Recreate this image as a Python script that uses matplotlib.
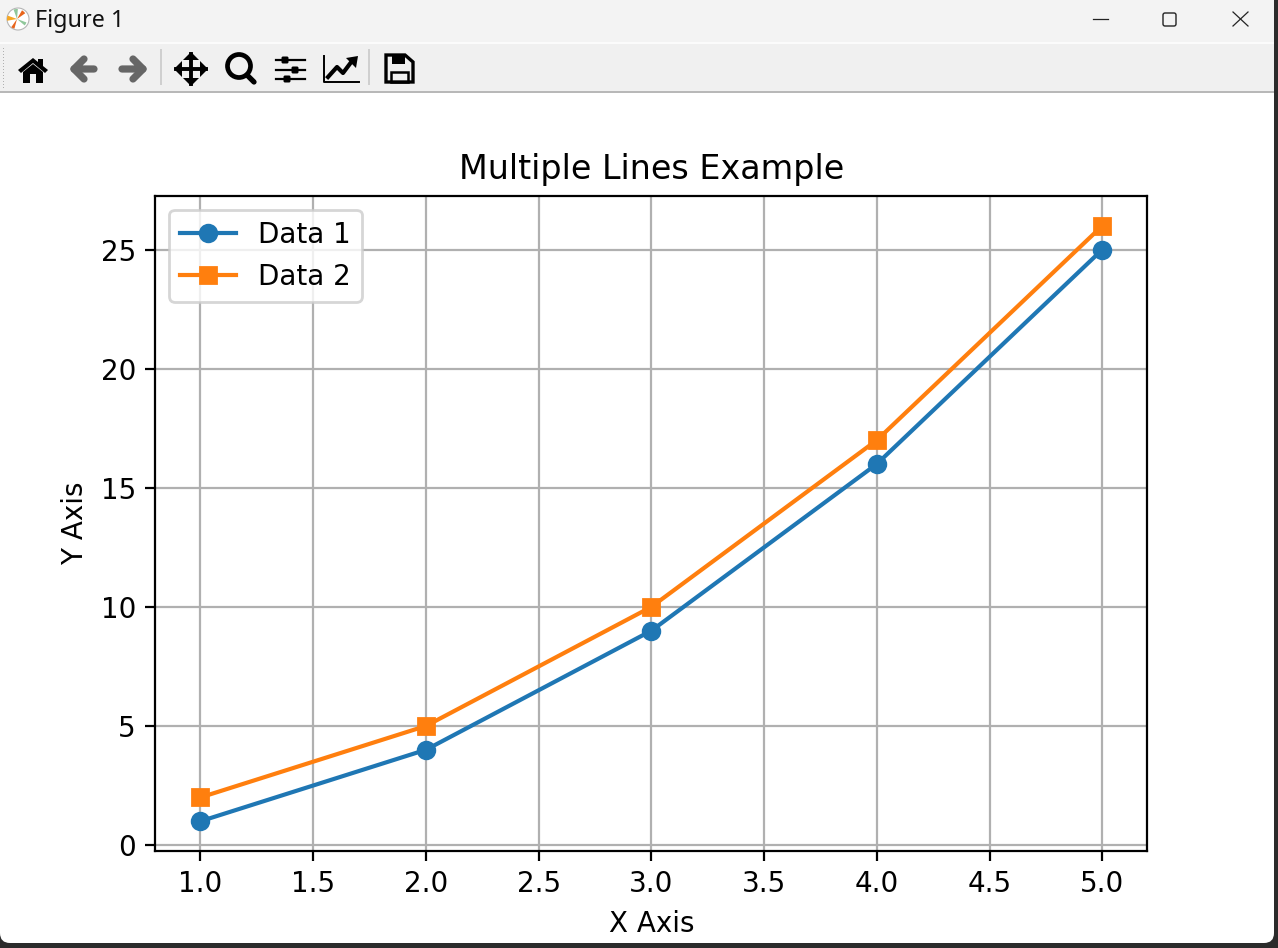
import matplotlib

matplotlib.use("Agg")
import matplotlib.pyplot as plt
from matplotlib.patches import Circle, FancyBboxPatch, Polygon, Rectangle, Wedge

x_values = [1, 2, 3, 4, 5]
data_1 = [1, 4, 9, 16, 25]
data_2 = [2, 5, 10, 17, 26]

WIDTH, HEIGHT = 1278, 948
DPI = 200

fig = plt.figure(figsize=(WIDTH / DPI, HEIGHT / DPI), dpi=DPI, facecolor="#2b2b2b")


def draw_window(win):
    """Window frame and toolbar, drawn in pixel coordinates."""
    win.set_xlim(0, WIDTH)
    win.set_ylim(HEIGHT, 0)
    win.axis("off")

    win.add_patch(
        FancyBboxPatch(
            (0, -20), 1274, 963, boxstyle="round,pad=0,rounding_size=10",
            fc="white", ec="none",
        )
    )
    win.add_patch(
        FancyBboxPatch(
            (0, -10), 1274, 102, boxstyle="round,pad=0,rounding_size=10",
            fc="#f3f3f3", ec="none",
        )
    )
    win.add_patch(Rectangle((0, 42), 1274, 1.5, fc="#fbfbfb", ec="none"))
    win.add_patch(Rectangle((0, 43.5), 1274, 47.5, fc="#f0f0f0", ec="none"))
    win.add_patch(Rectangle((0, 91), 1274, 1.6, fc="#b8b8b8", ec="none"))

    # title bar
    win.add_patch(Circle((18, 19), 11, fc="white", ec="#b5b5b5", lw=0.4))
    for start, end, color in [
        (-60, -35, "#e8641b"), (105, 125, "#e8641b"), (170, 200, "#f5a623"),
        (250, 275, "#8fc79a"), (20, 40, "#8fc79a"),
    ]:
        win.add_patch(Wedge((17, 19), 10, start, end, fc=color, ec="none"))
    win.text(35, 21, "Figure 1", family="Noto Sans", fontsize=8.4, va="center", color="#111111")
    win.plot([1093, 1108], [19, 19], color="#222222", lw=0.45)
    win.add_patch(
        FancyBboxPatch(
            (1163, 13), 13, 13, boxstyle="round,pad=0,rounding_size=2",
            fc="none", ec="#222222", lw=0.5,
        )
    )
    win.plot([1233, 1248], [12, 26], color="#222222", lw=0.45)
    win.plot([1233, 1248], [26, 12], color="#222222", lw=0.45)

    # toolbar
    for y in range(48, 90, 3):
        win.add_patch(Rectangle((3, y), 1, 1, fc="#b0b0b0", ec="none"))
    for sep_x in (160, 368):
        win.add_patch(Rectangle((sep_x, 49), 1.6, 36, fc="#cfcfcf", ec="none"))

    # home
    win.add_patch(Polygon([(18, 70), (33, 58), (48, 70), (45, 73), (33, 63), (21, 73)], fc="black", ec="none"))
    win.add_patch(Rectangle((38, 59), 5, 7, fc="black", ec="none"))
    win.add_patch(
        Polygon(
            [(23, 72), (33, 64), (43, 72), (43, 83), (36, 83), (36, 74), (30, 74), (30, 83), (23, 83)],
            fc="black", ec="none",
        )
    )

    # back / forward
    grey = "#666666"
    for xs in ([94, 74, 84], [122, 143, 133]):
        win.plot(xs, [69, 69, 59], color=grey, lw=2.6, solid_capstyle="round", solid_joinstyle="round")
        win.plot(xs[1:], [69, 79], color=grey, lw=2.6, solid_capstyle="round")

    # pan
    win.plot([176, 206], [69, 69], color="black", lw=1.4)
    win.plot([191, 191], [54, 84], color="black", lw=1.4)
    win.add_patch(Polygon([(174, 69), (182, 61), (182, 77)], fc="black", ec="none"))
    win.add_patch(Polygon([(208, 69), (200, 61), (200, 77)], fc="black", ec="none"))
    win.add_patch(Polygon([(191, 52), (183, 60), (199, 60)], fc="black", ec="none"))
    win.add_patch(Polygon([(191, 86), (183, 78), (199, 78)], fc="black", ec="none"))

    # zoom
    win.add_patch(Circle((239, 66), 11.5, fc="none", ec="black", lw=1.7))
    win.plot([247, 254], [75, 82], color="black", lw=1.9, solid_capstyle="round")

    # subplots
    for line_y, knob_x in [(60, 285), (70, 295), (79, 287)]:
        win.plot([276, 305], [line_y, line_y], color="black", lw=0.8)
        win.add_patch(
            FancyBboxPatch(
                (knob_x - 3.5, line_y - 3.5), 7, 7, boxstyle="round,pad=0,rounding_size=1.5",
                fc="black", ec="none",
            )
        )

    # axes edit
    win.plot([324, 324, 359], [56, 82, 82], color="black", lw=0.7)
    win.plot([328, 337, 343, 352], [77, 67, 73, 61], color="black", lw=1.5)
    win.add_patch(Polygon([(358, 56), (346, 58), (356, 68)], fc="black", ec="none"))

    # save
    win.add_patch(
        Polygon([(386, 55), (405, 55), (413, 62), (413, 82), (386, 82)], fc="none", ec="black", lw=1.2)
    )
    win.add_patch(Rectangle((392, 55), 13, 9, fc="black", ec="none"))
    win.add_patch(Rectangle((391, 72), 17, 10, fc="none", ec="black", lw=0.9))


win_ax = fig.add_axes([0, 0, 1, 1], zorder=0)
draw_window(win_ax)

left, right, top, bottom = 155.4, 1147.4, 196, 851
ax = fig.add_axes(
    [left / WIDTH, 1 - bottom / HEIGHT, (right - left) / WIDTH, (bottom - top) / HEIGHT],
    zorder=1,
)
ax.plot(x_values, data_1, marker="o", label="Data 1")
ax.plot(x_values, data_2, marker="s", label="Data 2")
ax.set_title("Multiple Lines Example")
ax.set_xlabel("X Axis")
ax.set_ylabel("Y Axis")
ax.grid(True)
ax.legend()

fig.savefig("out.png", dpi=DPI, facecolor=fig.get_facecolor())
